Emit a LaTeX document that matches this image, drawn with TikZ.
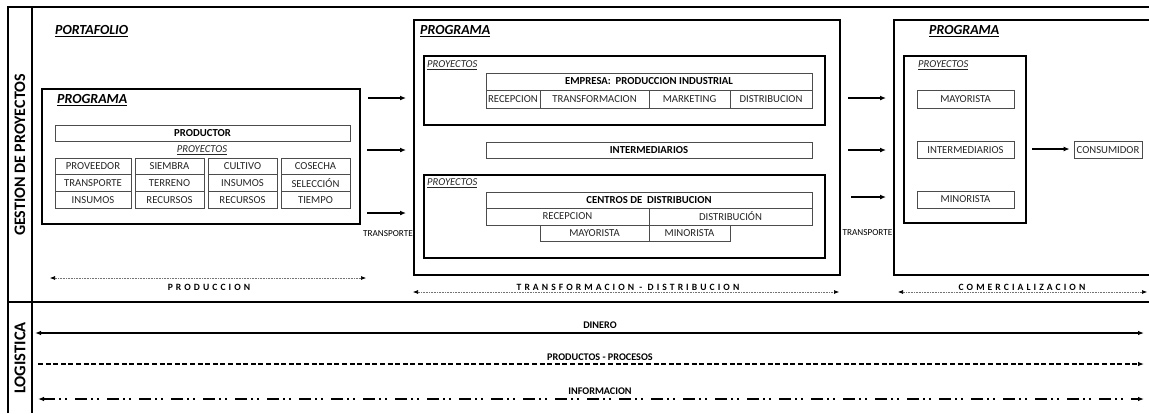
\documentclass[tikz,border=0pt]{standalone}
\usepackage{fontspec}
\setmainfont{Carlito}
\usetikzlibrary{arrows.meta}
\newcommand\cellfnt{\fontsize{10.7}{12}\selectfont}
\newcommand\ttlfnt{\fontsize{13.9}{15}\selectfont\bfseries\itshape}
\newcommand\pyfnt{\fontsize{10.6}{12}\selectfont\itshape}
\newcommand\spfnt{\fontsize{9.6}{11}\selectfont\bfseries\addfontfeature{LetterSpace=32}}
\begin{document}
\begin{tikzpicture}[x=1pt,y=-1pt,
  frameline/.style={draw=black, line width=1.6pt},
  pbox/.style={draw=black, line width=1.4pt},
  cell/.style={draw=black!70, line width=0.8pt, inner sep=0pt, font=\cellfnt, text=black!85},
  bcell/.style={cell, font=\cellfnt\bfseries, text=black},
  ttl/.style={anchor=west, inner sep=0pt, font=\ttlfnt},
  pyl/.style={inner sep=0pt, font=\pyfnt, text=black!85},
  arr/.style={-{Latex[length=6pt,width=5pt]}, line width=1.2pt},
  dotarr/.style={{Latex[length=5pt,width=4pt,color=black]}-{Latex[length=5pt,width=4pt,color=black]}, densely dotted, draw=black!55, line width=0.6pt},
  sp/.style={inner sep=0pt, font=\spfnt},
  small/.style={inner sep=0pt, font=\fontsize{9.2}{10}\selectfont},
  lbl/.style={inner sep=0pt, font=\fontsize{10.2}{11}\selectfont\bfseries},
  lg/.style={line width=1.1pt}
]
\useasboundingbox (0,0) rectangle (1149,413);
% outer frame
\draw[frameline] (8,413) -- (8,7) -- (1152,7);
\draw[frameline] (32,7) -- (32,413);
\draw[frameline] (8,302) -- (1152,302);
\node[rotate=90, inner sep=0pt, font=\fontsize{16}{17}\selectfont\bfseries] (gestion) at (20,155) {GESTION DE PROYECTOS};
\node[rotate=90, inner sep=0pt, font=\fontsize{16.5}{18}\selectfont\bfseries] (logistica) at (20,358) {LOGISTICA};

% ---------- left section ----------
\node[ttl] (portafolio) at (55,31) {\underline{PORTAFOLIO}};
\node[pbox, minimum width=318, minimum height=135, inner sep=0pt] (progA) at (201,156.5) {};
\node[ttl] (progAt) at (57,100) {\underline{PROGRAMA}};
\node[bcell, minimum width=295, minimum height=16] (productor) at (202.5,133) {PRODUCTOR};
\node[pyl] (pyA) at (202,150) {\underline{PROYECTOS}};
\node[cell, minimum width=76, minimum height=16.7] (c11) at (93,166.3) {PROVEEDOR};
\node[cell, minimum width=69, minimum height=16.7] (c12) at (169.5,166.3) {SIEMBRA};
\node[cell, minimum width=69, minimum height=16.7] (c13) at (242.5,166.3) {CULTIVO};
\node[cell, minimum width=69, minimum height=16.7] (c14) at (315.5,166.3) {COSECHA};
\node[cell, minimum width=76, minimum height=16.7] (c21) at (93,183) {TRANSPORTE};
\node[cell, minimum width=69, minimum height=16.7] (c22) at (169.5,183) {TERRENO};
\node[cell, minimum width=69, minimum height=16.7] (c23) at (242.5,183) {INSUMOS};
\node[cell, minimum width=69, minimum height=16.7] (c24) at (315.5,183) {SELECCIÓN};
\node[cell, minimum width=76, minimum height=16.7] (c31) at (93,199.7) {INSUMOS};
\node[cell, minimum width=69, minimum height=16.7] (c32) at (169.5,199.7) {RECURSOS};
\node[cell, minimum width=69, minimum height=16.7] (c33) at (242.5,199.7) {RECURSOS};
\node[cell, minimum width=69, minimum height=16.7] (c34) at (315.5,199.7) {TIEMPO};

\coordinate (a1s) at (368,98);  \coordinate (a1e) at (406,98);
\coordinate (a2s) at (367,150); \coordinate (a2e) at (406,150);
\coordinate (a3s) at (367,213); \coordinate (a3e) at (406,213);
\draw[arr] (a1s) -- (a1e);
\draw[arr] (a2s) -- (a2e);
\draw[arr] (a3s) -- (a3e);
\node[small] (trA) at (388,234) {TRANSPORTE};

\coordinate (pL) at (50,278); \coordinate (pR) at (366,278);
\draw[dotarr] (pL) -- (pR);
\node[sp] (produccion) at (209,287) {PRODUCCION};

% ---------- middle section ----------
\node[pbox, minimum width=426, minimum height=255, inner sep=0pt] (progB) at (627,147.5) {};
\node[ttl] (progBt) at (420,31) {\underline{PROGRAMA}};
\node[pbox, minimum width=401, minimum height=69, inner sep=0pt] (pyB1) at (624.5,90.5) {};
\node[pyl, anchor=west] (pyB1t) at (427,65) {\underline{PROYECTOS}};
\node[bcell, minimum width=326, minimum height=17] (empresa) at (649,81.5) {EMPRESA:\ \ PRODUCCION INDUSTRIAL};
\node[cell, minimum width=54, minimum height=18] (e1) at (513,99) {RECEPCION};
\node[cell, minimum width=109, minimum height=18] (e2) at (594.5,99) {TRANSFORMACION};
\node[cell, minimum width=81, minimum height=18] (e3) at (689.5,99) {MARKETING};
\node[cell, minimum width=82, minimum height=18] (e4) at (771,99) {DISTRIBUCION};

\node[bcell, minimum width=326, minimum height=16] (interB) at (649,150) {INTERMEDIARIOS};

\node[pbox, minimum width=401, minimum height=83, inner sep=0pt] (pyB2) at (624.5,216.5) {};
\node[pyl, anchor=west] (pyB2t) at (427,183) {\underline{PROYECTOS}};
\node[bcell, minimum width=326, minimum height=16] (centros) at (649,200) {CENTROS DE\ \ DISTRIBUCION};
\node[cell, minimum width=163, minimum height=17] (d1) at (567.5,216.5) {RECEPCION};
\node[cell, minimum width=163, minimum height=17] (d2) at (730.5,216.5) {DISTRIBUCIÓN};
\node[cell, minimum width=109, minimum height=16.5] (d3) at (594.5,233.2) {MAYORISTA};
\node[cell, minimum width=81, minimum height=16.5] (d4) at (689.5,233.2) {MINORISTA};

\coordinate (b1s) at (848,98);  \coordinate (b1e) at (886,98);
\coordinate (b2s) at (848,150); \coordinate (b2e) at (886,150);
\coordinate (b3s) at (851,197); \coordinate (b3e) at (886,197);
\draw[arr] (b1s) -- (b1e);
\draw[arr] (b2s) -- (b2e);
\draw[arr] (b3s) -- (b3e);
\node[small] (trB) at (867.5,233) {TRANSPORTE};

\coordinate (tL) at (413,292); \coordinate (tR) at (839,292);
\draw[dotarr] (tL) -- (tR);
\node[sp] (transf) at (628,287) {TRANSFORMACION - DISTRIBUCION};

% ---------- right section ----------
\draw[pbox] (1155,20) -- (894,20) -- (894,275) -- (1155,275);
\node[ttl] (progCt) at (929,31) {\underline{PROGRAMA}};
\node[pbox, minimum width=122, minimum height=167, inner sep=0pt] (pyC) at (965,139.5) {};
\node[pyl, anchor=west] (pyCt) at (918,65) {\underline{PROYECTOS}};
\node[cell, minimum width=97, minimum height=18] (may) at (965.5,99) {MAYORISTA};
\node[cell, minimum width=97, minimum height=16.5] (interC) at (965.5,150) {INTERMEDIARIOS};
\node[cell, minimum width=97, minimum height=17] (minC) at (965.5,199.5) {MINORISTA};
\node[cell, minimum width=68, minimum height=16.5] (consumidor) at (1108,150) {CONSUMIDOR};
\coordinate (cs) at (1032,149);
\draw[arr, shorten >=4pt] (cs) -- (cs -| consumidor.west);

\coordinate (cL) at (898,292); \coordinate (cR) at (1147,292);
\draw[dotarr] (cL) -- (cR);
\node[sp] (comerc) at (1022,287) {COMERCIALIZACION};

% ---------- logistics ----------
\coordinate (dinL) at (35,333); \coordinate (dinR) at (1144,333);
\draw[lg, {Latex[length=6pt,width=4.5pt]}-{Latex[length=6pt,width=4.5pt]}] (dinL) -- (dinR);
\node[lbl] (dinero) at (600,325) {DINERO};

\coordinate (prL) at (38,364); \coordinate (prR) at (1144,364);
\draw[lg, dash pattern=on 5pt off 2.6pt, -{Latex[length=6pt,width=4.5pt]}] (prL) -- (prR);
\node[lbl] (prod) at (600,357) {PRODUCTOS - PROCESOS};

\coordinate (inL) at (38,399); \coordinate (inR) at (1144,399);
\draw[lg, dash pattern=on 12pt off 4pt on 2pt off 4pt on 2pt off 8pt, {Latex[length=6pt,width=4.5pt]}-{Latex[length=6pt,width=4.5pt]}] (inL) -- (inR);
\node[lbl] (info) at (600,391) {INFORMACION};
\end{tikzpicture}
\end{document}
